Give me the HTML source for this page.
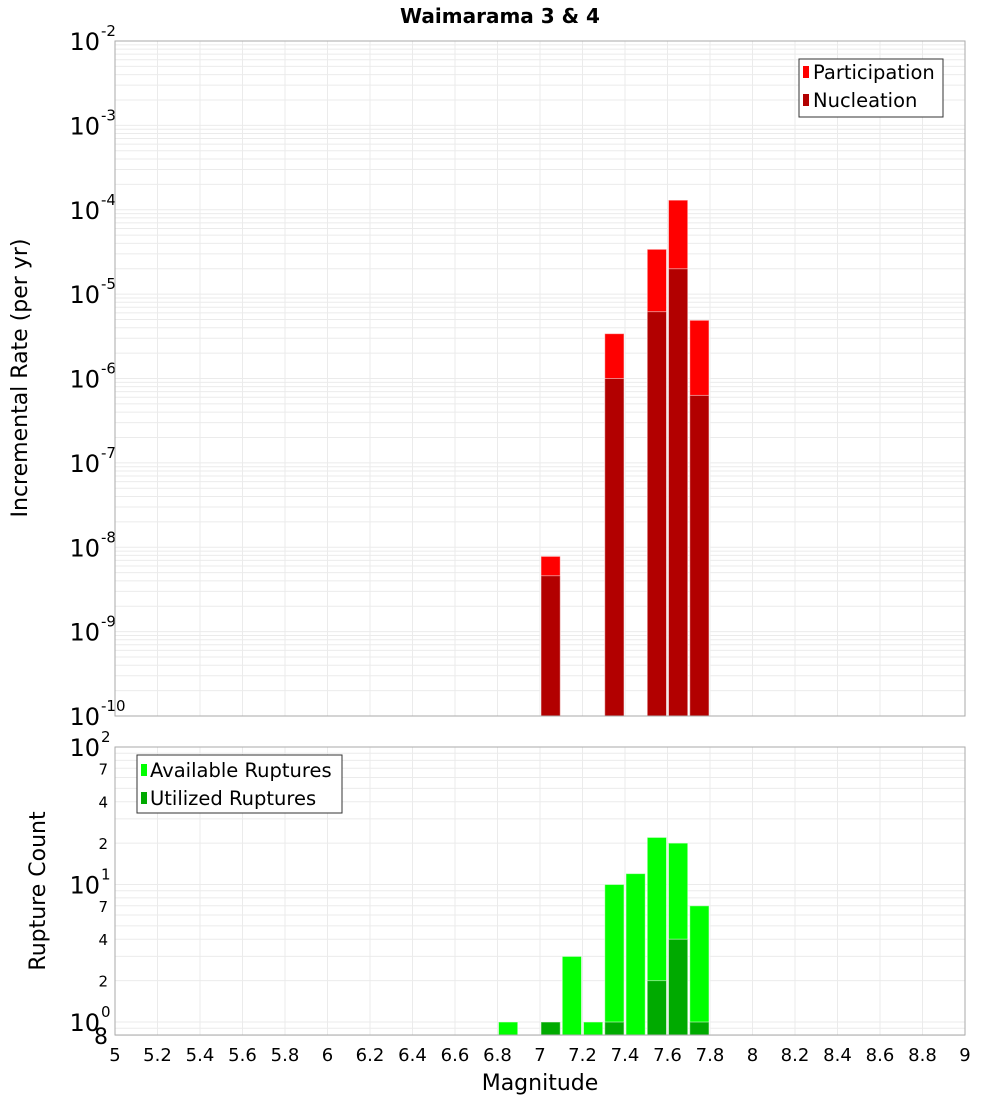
<!DOCTYPE html>
<html><head><meta charset="utf-8"><style>
body{margin:0;background:#fff;font-family:"Liberation Sans","DejaVu Sans",sans-serif}
svg text{font-family:"DejaVu Sans","Liberation Sans",sans-serif}
</style></head><body>
<svg id="c" width="1000" height="1100" viewBox="0 0 1000 1100" xmlns="http://www.w3.org/2000/svg">
<text x="500" y="23" text-anchor="middle" font-size="20" font-weight="bold">Waimarama 3 &amp; 4</text>
<g id="topPanel"></g>
<g id="botPanel"></g>
<text transform="translate(27,378) rotate(-90)" text-anchor="middle" font-size="22">Incremental Rate (per yr)</text>
<text transform="translate(45,891) rotate(-90)" text-anchor="middle" font-size="22">Rupture Count</text>
<text x="540" y="1090" text-anchor="middle" font-size="22">Magnitude</text>
<g id="legends">
<g>
<rect x="799" y="59" width="144" height="58" fill="#fff" stroke="#333"/>
<rect x="803" y="66" width="6" height="12" fill="#ff0000"/>
<text x="813" y="79" font-size="19.5">Participation</text>
<rect x="803" y="94" width="6" height="12" fill="#b20000"/>
<text x="813" y="107" font-size="19.5">Nucleation</text>
</g>
<g>
<rect x="137" y="755" width="205" height="58" fill="#fff" stroke="#333"/>
<rect x="141" y="764" width="6" height="12" fill="#00ff00"/>
<text x="150" y="777" font-size="19.5">Available Ruptures</text>
<rect x="141" y="792" width="6" height="12" fill="#00aa00"/>
<text x="150" y="805" font-size="19.5">Utilized Ruptures</text>
</g>
</g>
</svg>
<script>
const topBins=[7.05,7.35,7.55,7.65,7.75];
const participation=[7.8e-9,3.4e-6,3.4e-5,1.3e-4,4.9e-6];
const nucleation=[4.6e-9,1.0e-6,6.2e-6,2.0e-5,6.3e-7];
const botBins=[6.85,7.05,7.15,7.25,7.35,7.45,7.55,7.65,7.75];
const available=[1,1,3,1,10,12,22,20,7];
const utilized=[0,1,0,0,1,0,2,4,1];
const xTicks=[5,5.2,5.4,5.6,5.8,6,6.2,6.4,6.6,6.8,7,7.2,7.4,7.6,7.8,8,8.2,8.4,8.6,8.8,9];
const topExps=[-2,-3,-4,-5,-6,-7,-8,-9,-10];
const botMinor=[2,4,7,20,40,70];
const NS="http://www.w3.org/2000/svg";
const L=115,R=965;
const X=m=>L+(m-5)*(R-L)/4;
const T0=41,T1=716,Yt=v=>T0+(-2-Math.log10(v))*(T1-T0)/8;
const B0=747,B1=1035,Yb=v=>B0+(2-Math.log10(v))*137.5;
function mk(p,t,a){const e=document.createElementNS(NS,t);for(const k in a)e.setAttribute(k,a[k]);p.appendChild(e);return e;}
const topG=document.getElementById('topPanel'),botG=document.getElementById('botPanel');
const svgEl=document.getElementById('c');
mk(topG,'rect',{x:L,y:T0,width:R-L,height:T1-T0,fill:'#fff',stroke:'none'});
mk(botG,'rect',{x:L,y:B0,width:R-L,height:B1-B0,fill:'#fff',stroke:'none'});
xTicks.forEach(t=>{
 let g=mk(topG,'line',{x1:X(t),x2:X(t),y1:T0,y2:T1,stroke:'#ebebeb'});
 
 
 g=mk(botG,'line',{x1:X(t),x2:X(t),y1:B0,y2:B1,stroke:'#ebebeb'});
 
 
 const tx=mk(svgEl,'text',{x:X(t),y:1061,'text-anchor':'middle','font-size':18});
 tx.textContent=String(t);
 
 
});
for(let e=-10;e<-2;e++){for(let k=1;k<10;k++){const y=Yt(k*Math.pow(10,e));
 const g=mk(topG,'line',{x1:L,x2:R,y1:y,y2:y,stroke:'#ebebeb'});
 
 }}
for(let e=-1;e<2;e++){for(let k=1;k<10;k++){const v=k*Math.pow(10,e);if(v<0.8)continue;const y=Yb(v);
 const g=mk(botG,'line',{x1:L,x2:R,y1:y,y2:y,stroke:'#ebebeb'});
 
 }}
topExps.forEach(e=>{const y=Yt(Math.pow(10,e));
 const t=mk(topG,'text',{x:100,y:y+9,'text-anchor':'end','font-size':24});t.textContent='10';
 
 
 const s=mk(topG,'text',{x:101,y:y-5,'font-size':15});s.textContent=String(e);
 
 });
[0,1,2].forEach(e=>{const y=Yb(Math.pow(10,e));
 const t=mk(botG,'text',{x:100,y:y+9,'text-anchor':'end','font-size':24});t.textContent='10';
 
 
 const s=mk(botG,'text',{x:101,y:y-5,'font-size':15});s.textContent=String(e);
 
 });
botMinor.forEach(v=>{const t=mk(botG,'text',{x:108,y:Yb(v)+6,'text-anchor':'end','font-size':15});t.textContent=String(v).charAt(0);
 
 });
{const t=mk(botG,'text',{x:108,y:B1+9,'text-anchor':'end','font-size':22});t.textContent='8';
 
 }
function bar(p,m,v,y,base,c,name){const x0=X(m-0.05)+1,x1=X(m+0.05)-1,yy=y(v);
 const r=mk(p,'rect',{x:x0,y:yy,width:x1-x0,height:Math.max(0,base-yy),fill:c,stroke:'rgba(255,255,255,0.5)','stroke-width':1});
 
 }
topBins.forEach((m,i)=>{bar(topG,m,participation[i],Yt,T1,'#ff0000','participation-bar');
 bar(topG,m,nucleation[i],Yt,T1,'#b20000','nucleation-bar');});
botBins.forEach((m,i)=>{if(available[i]>0)bar(botG,m,available[i],Yb,B1,'#00ff00','available-bar');
 if(utilized[i]>0)bar(botG,m,utilized[i],Yb,B1,'#00aa00','utilized-bar');});
mk(topG,'rect',{x:L,y:T0,width:R-L,height:T1-T0,fill:'none',stroke:'#aaa'});
mk(botG,'rect',{x:L,y:B0,width:R-L,height:B1-B0,fill:'none',stroke:'#aaa'});
svgEl.appendChild(document.getElementById('legends'));
</script>
</body></html>
